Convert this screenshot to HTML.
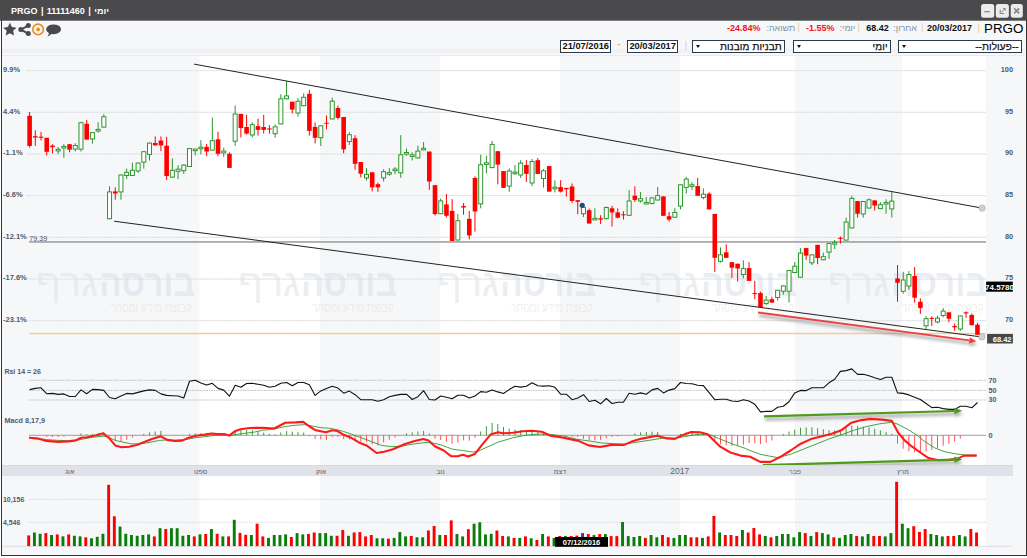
<!DOCTYPE html><html><head><meta charset="utf-8"><title>PRGO</title><style>*{margin:0;padding:0;box-sizing:border-box}
html,body{width:1027px;height:558px;overflow:hidden;background:#fff;font-family:"Liberation Sans",Arial,sans-serif}
#wrap{position:relative;width:1027px;height:558px;overflow:hidden}
svg{position:absolute;left:0;top:0}
.t{position:absolute;white-space:nowrap;line-height:1}
.sel{position:absolute;height:13.6px;border:1px solid #2b3a4a;background:#fff;font-size:10px;font-weight:normal;color:#111;direction:rtl;text-align:right;padding-right:2.5px;line-height:12px;letter-spacing:0.1px;-webkit-text-stroke:0.25px #111}
.sel svg{position:absolute;left:3px;top:4.5px}
.dt{position:absolute;height:13.2px;border:1px solid #2b3a4a;background:#fff;font-size:9.3px;font-weight:bold;color:#111;text-align:center;line-height:11px}
.wb{position:absolute;top:4px;width:13px;height:13.5px;background:#ececec;border-radius:2.5px}
</style></head><body><div id="wrap"><svg width="1027" height="558" viewBox="0 0 1027 558" font-family="Liberation Sans, Arial, sans-serif"><defs><filter id="sh" x="-5%" y="-200%" width="110%" height="500%"><feGaussianBlur stdDeviation="1.6"/></filter></defs><rect x="0" y="0" width="1027" height="558" fill="#fff"/><rect x="1" y="20" width="1025" height="535" fill="#f6f7f9"/><rect x="0" y="0" width="1027" height="20.7" fill="#4a4a4c"/><rect x="2" y="49" width="1023" height="3.6" fill="#f0f1f4"/><rect x="199.5" y="55.5" width="120.5" height="410" fill="#fff"/><rect x="199.5" y="476" width="120.5" height="70" fill="#fff"/><rect x="440" y="55.5" width="120" height="410" fill="#fff"/><rect x="440" y="476" width="120" height="70" fill="#fff"/><rect x="680" y="55.5" width="115" height="410" fill="#fff"/><rect x="680" y="476" width="115" height="70" fill="#fff"/><rect x="902" y="55.5" width="84" height="410" fill="#fff"/><rect x="902" y="476" width="84" height="70" fill="#fff"/><rect x="2" y="55" width="1023" height="0.8" fill="#e6e8ec"/><line x1="27" y1="70.6" x2="986" y2="70.6" stroke="#eceef1" stroke-width="1"/><line x1="27" y1="70.6" x2="986" y2="70.6" stroke="#d2d5da" stroke-width="0.8" stroke-dasharray="1.2,1.2"/><line x1="27" y1="112.3" x2="986" y2="112.3" stroke="#eceef1" stroke-width="1"/><line x1="27" y1="112.3" x2="986" y2="112.3" stroke="#d2d5da" stroke-width="0.8" stroke-dasharray="1.2,1.2"/><line x1="27" y1="154.0" x2="986" y2="154.0" stroke="#eceef1" stroke-width="1"/><line x1="27" y1="154.0" x2="986" y2="154.0" stroke="#d2d5da" stroke-width="0.8" stroke-dasharray="1.2,1.2"/><line x1="27" y1="195.6" x2="986" y2="195.6" stroke="#eceef1" stroke-width="1"/><line x1="27" y1="195.6" x2="986" y2="195.6" stroke="#d2d5da" stroke-width="0.8" stroke-dasharray="1.2,1.2"/><line x1="27" y1="237.3" x2="986" y2="237.3" stroke="#eceef1" stroke-width="1"/><line x1="27" y1="237.3" x2="986" y2="237.3" stroke="#d2d5da" stroke-width="0.8" stroke-dasharray="1.2,1.2"/><line x1="27" y1="279.0" x2="986" y2="279.0" stroke="#eceef1" stroke-width="1"/><line x1="27" y1="279.0" x2="986" y2="279.0" stroke="#d2d5da" stroke-width="0.8" stroke-dasharray="1.2,1.2"/><line x1="27" y1="320.7" x2="986" y2="320.7" stroke="#eceef1" stroke-width="1"/><line x1="27" y1="320.7" x2="986" y2="320.7" stroke="#d2d5da" stroke-width="0.8" stroke-dasharray="1.2,1.2"/><text x="195" y="295.8" font-size="38.5" font-weight="bold" fill="#d3dce6" fill-opacity="0.47" text-anchor="end" textLength="96" lengthAdjust="spacingAndGlyphs">בורסה</text><text x="98" y="295.8" font-size="38.5" fill="#dde2e8" fill-opacity="0.55" text-anchor="end" textLength="62" lengthAdjust="spacingAndGlyphs">גרף</text><text x="192" y="311.6" font-size="13" fill="#e2dcd2" fill-opacity="0.45" text-anchor="end" textLength="82" lengthAdjust="spacingAndGlyphs">קבוצת מידע ומסחר</text><text x="397" y="295.8" font-size="38.5" font-weight="bold" fill="#d3dce6" fill-opacity="0.47" text-anchor="end" textLength="96" lengthAdjust="spacingAndGlyphs">בורסה</text><text x="300" y="295.8" font-size="38.5" fill="#dde2e8" fill-opacity="0.55" text-anchor="end" textLength="62" lengthAdjust="spacingAndGlyphs">גרף</text><text x="394" y="311.6" font-size="13" fill="#e2dcd2" fill-opacity="0.45" text-anchor="end" textLength="82" lengthAdjust="spacingAndGlyphs">קבוצת מידע ומסחר</text><text x="596" y="295.8" font-size="38.5" font-weight="bold" fill="#d3dce6" fill-opacity="0.47" text-anchor="end" textLength="96" lengthAdjust="spacingAndGlyphs">בורסה</text><text x="499" y="295.8" font-size="38.5" fill="#dde2e8" fill-opacity="0.55" text-anchor="end" textLength="62" lengthAdjust="spacingAndGlyphs">גרף</text><text x="593" y="311.6" font-size="13" fill="#e2dcd2" fill-opacity="0.45" text-anchor="end" textLength="82" lengthAdjust="spacingAndGlyphs">קבוצת מידע ומסחר</text><text x="797" y="295.8" font-size="38.5" font-weight="bold" fill="#d3dce6" fill-opacity="0.47" text-anchor="end" textLength="96" lengthAdjust="spacingAndGlyphs">בורסה</text><text x="700" y="295.8" font-size="38.5" fill="#dde2e8" fill-opacity="0.55" text-anchor="end" textLength="62" lengthAdjust="spacingAndGlyphs">גרף</text><text x="794" y="311.6" font-size="13" fill="#e2dcd2" fill-opacity="0.45" text-anchor="end" textLength="82" lengthAdjust="spacingAndGlyphs">קבוצת מידע ומסחר</text><text x="987" y="295.8" font-size="38.5" font-weight="bold" fill="#d3dce6" fill-opacity="0.47" text-anchor="end" textLength="96" lengthAdjust="spacingAndGlyphs">בורסה</text><text x="890" y="295.8" font-size="38.5" fill="#dde2e8" fill-opacity="0.55" text-anchor="end" textLength="62" lengthAdjust="spacingAndGlyphs">גרף</text><text x="984" y="311.6" font-size="13" fill="#e2dcd2" fill-opacity="0.45" text-anchor="end" textLength="82" lengthAdjust="spacingAndGlyphs">קבוצת מידע ומסחר</text><text x="3" y="71.9" font-size="7.5" font-weight="bold" fill="#4f5a6b">9.9%</text><text x="1013" y="71.9" font-size="7.3" font-weight="bold" fill="#4f5a6b" text-anchor="end">100</text><text x="3" y="113.6" font-size="7.5" font-weight="bold" fill="#4f5a6b">4.4%</text><text x="1013" y="113.6" font-size="7.3" font-weight="bold" fill="#4f5a6b" text-anchor="end">95</text><text x="3" y="155.3" font-size="7.5" font-weight="bold" fill="#4f5a6b">-1.1%</text><text x="1013" y="155.3" font-size="7.3" font-weight="bold" fill="#4f5a6b" text-anchor="end">90</text><text x="3" y="196.9" font-size="7.5" font-weight="bold" fill="#4f5a6b">-6.6%</text><text x="1013" y="196.9" font-size="7.3" font-weight="bold" fill="#4f5a6b" text-anchor="end">85</text><text x="3" y="238.6" font-size="7.5" font-weight="bold" fill="#4f5a6b">-12.1%</text><text x="1013" y="238.6" font-size="7.3" font-weight="bold" fill="#4f5a6b" text-anchor="end">80</text><text x="3" y="280.3" font-size="7.5" font-weight="bold" fill="#4f5a6b">-17.6%</text><text x="1013" y="280.3" font-size="7.3" font-weight="bold" fill="#4f5a6b" text-anchor="end">75</text><text x="3" y="322.0" font-size="7.5" font-weight="bold" fill="#4f5a6b">-23.1%</text><text x="1013" y="322.0" font-size="7.3" font-weight="bold" fill="#4f5a6b" text-anchor="end">70</text><rect x="29" y="241.2" width="957" height="1.5" fill="#9a9a9a"/><text x="29.2" y="240.8" font-size="7.2" fill="#555">79.39</text><line x1="29.2" y1="333.5" x2="986" y2="333.5" stroke="#f2cba0" stroke-width="1.3"/><line x1="29.60" y1="112.0" x2="29.60" y2="147.5" stroke="#ff0000" stroke-width="1"/><rect x="27.30" y="115.8" width="4.6" height="30.1" fill="#ff0000"/><line x1="35.31" y1="130.3" x2="35.31" y2="145.9" stroke="#ff0000" stroke-width="1"/><rect x="33.01" y="136.2" width="4.6" height="1.3" fill="#ff0000"/><line x1="41.02" y1="131.9" x2="41.02" y2="140.5" stroke="#ff0000" stroke-width="1"/><rect x="38.72" y="136.7" width="4.6" height="1.1" fill="#ff0000"/><line x1="46.73" y1="137.8" x2="46.73" y2="155.5" stroke="#ff0000" stroke-width="1"/><rect x="44.43" y="137.8" width="4.6" height="14.0" fill="#ff0000"/><line x1="52.44" y1="144.2" x2="52.44" y2="153.4" stroke="#ff0000" stroke-width="1"/><rect x="50.14" y="145.6" width="4.6" height="1.6" fill="#ff0000"/><line x1="58.15" y1="147.0" x2="58.15" y2="154.0" stroke="#2c962c" stroke-width="1"/><rect x="56.15" y="149.3" width="4.0" height="1.6" fill="#fff" stroke="#2c962c" stroke-width="1"/><line x1="63.86" y1="144.2" x2="63.86" y2="157.7" stroke="#2c962c" stroke-width="1"/><rect x="61.86" y="146.4" width="4.0" height="1.6" fill="#fff" stroke="#2c962c" stroke-width="1"/><line x1="69.57" y1="144.2" x2="69.57" y2="152.3" stroke="#ff0000" stroke-width="1"/><rect x="67.27" y="144.2" width="4.6" height="5.4" fill="#ff0000"/><line x1="75.28" y1="143.2" x2="75.28" y2="151.5" stroke="#2c962c" stroke-width="1"/><rect x="73.28" y="145.5" width="4.0" height="3.6" fill="#fff" stroke="#2c962c" stroke-width="1"/><line x1="80.99" y1="121.7" x2="80.99" y2="151.5" stroke="#2c962c" stroke-width="1"/><rect x="78.99" y="122.7" width="4.0" height="26.4" fill="#fff" stroke="#2c962c" stroke-width="1"/><line x1="86.70" y1="120.0" x2="86.70" y2="139.6" stroke="#ff0000" stroke-width="1"/><rect x="84.40" y="123.8" width="4.6" height="15.8" fill="#ff0000"/><line x1="92.41" y1="132.1" x2="92.41" y2="143.7" stroke="#2c962c" stroke-width="1"/><rect x="90.41" y="132.6" width="4.0" height="6.3" fill="#fff" stroke="#2c962c" stroke-width="1"/><line x1="98.12" y1="122.2" x2="98.12" y2="132.7" stroke="#2c962c" stroke-width="1"/><rect x="96.12" y="129.4" width="4.0" height="1.6" fill="#fff" stroke="#2c962c" stroke-width="1"/><line x1="103.83" y1="114.1" x2="103.83" y2="127.6" stroke="#2c962c" stroke-width="1"/><rect x="101.83" y="116.8" width="4.0" height="10.3" fill="#fff" stroke="#2c962c" stroke-width="1"/><line x1="109.54" y1="186.3" x2="109.54" y2="219.2" stroke="#2c962c" stroke-width="1"/><rect x="107.54" y="191.9" width="4.0" height="26.8" fill="#fff" stroke="#2c962c" stroke-width="1"/><line x1="115.25" y1="187.3" x2="115.25" y2="199.7" stroke="#ff0000" stroke-width="1"/><rect x="112.95" y="191.4" width="4.6" height="2.1" fill="#ff0000"/><line x1="120.96" y1="174.5" x2="120.96" y2="199.7" stroke="#2c962c" stroke-width="1"/><rect x="118.96" y="175.0" width="4.0" height="16.9" fill="#fff" stroke="#2c962c" stroke-width="1"/><line x1="126.67" y1="168.7" x2="126.67" y2="179.0" stroke="#2c962c" stroke-width="1"/><rect x="124.67" y="172.3" width="4.0" height="3.2" fill="#fff" stroke="#2c962c" stroke-width="1"/><line x1="132.38" y1="162.6" x2="132.38" y2="176.0" stroke="#2c962c" stroke-width="1"/><rect x="130.38" y="170.3" width="4.0" height="5.2" fill="#fff" stroke="#2c962c" stroke-width="1"/><line x1="138.09" y1="162.6" x2="138.09" y2="172.9" stroke="#2c962c" stroke-width="1"/><rect x="136.09" y="163.1" width="4.0" height="7.8" fill="#fff" stroke="#2c962c" stroke-width="1"/><line x1="143.80" y1="151.2" x2="143.80" y2="168.7" stroke="#2c962c" stroke-width="1"/><rect x="141.80" y="151.7" width="4.0" height="10.4" fill="#fff" stroke="#2c962c" stroke-width="1"/><line x1="149.51" y1="142.6" x2="149.51" y2="160.5" stroke="#2c962c" stroke-width="1"/><rect x="147.51" y="143.1" width="4.0" height="11.3" fill="#fff" stroke="#2c962c" stroke-width="1"/><line x1="155.22" y1="136.4" x2="155.22" y2="145.4" stroke="#ff0000" stroke-width="1"/><rect x="152.92" y="143.0" width="4.6" height="2.4" fill="#ff0000"/><line x1="160.93" y1="136.4" x2="160.93" y2="151.2" stroke="#ff0000" stroke-width="1"/><rect x="158.63" y="140.5" width="4.6" height="4.9" fill="#ff0000"/><line x1="166.64" y1="136.8" x2="166.64" y2="180.0" stroke="#ff0000" stroke-width="1"/><rect x="164.34" y="145.7" width="4.6" height="30.3" fill="#ff0000"/><line x1="172.35" y1="158.4" x2="172.35" y2="177.6" stroke="#2c962c" stroke-width="1"/><rect x="170.35" y="170.3" width="4.0" height="6.8" fill="#fff" stroke="#2c962c" stroke-width="1"/><line x1="178.06" y1="165.2" x2="178.06" y2="179.0" stroke="#2c962c" stroke-width="1"/><rect x="176.06" y="169.2" width="4.0" height="2.1" fill="#fff" stroke="#2c962c" stroke-width="1"/><line x1="183.77" y1="164.6" x2="183.77" y2="173.9" stroke="#2c962c" stroke-width="1"/><rect x="181.77" y="165.1" width="4.0" height="5.6" fill="#fff" stroke="#2c962c" stroke-width="1"/><line x1="189.48" y1="148.1" x2="189.48" y2="167.0" stroke="#2c962c" stroke-width="1"/><rect x="187.48" y="148.6" width="4.0" height="17.9" fill="#fff" stroke="#2c962c" stroke-width="1"/><line x1="195.19" y1="148.7" x2="195.19" y2="155.3" stroke="#2c962c" stroke-width="1"/><rect x="193.19" y="149.1" width="4.0" height="1.6" fill="#fff" stroke="#2c962c" stroke-width="1"/><line x1="200.90" y1="140.2" x2="200.90" y2="154.3" stroke="#2c962c" stroke-width="1"/><rect x="198.90" y="147.2" width="4.0" height="1.6" fill="#fff" stroke="#2c962c" stroke-width="1"/><line x1="206.61" y1="144.0" x2="206.61" y2="156.2" stroke="#ff0000" stroke-width="1"/><rect x="204.31" y="146.8" width="4.6" height="4.7" fill="#ff0000"/><line x1="212.32" y1="117.6" x2="212.32" y2="150.6" stroke="#2c962c" stroke-width="1"/><rect x="210.32" y="140.7" width="4.0" height="9.4" fill="#fff" stroke="#2c962c" stroke-width="1"/><line x1="218.03" y1="131.7" x2="218.03" y2="156.2" stroke="#ff0000" stroke-width="1"/><rect x="215.73" y="139.3" width="4.6" height="14.5" fill="#ff0000"/><line x1="223.74" y1="147.7" x2="223.74" y2="157.2" stroke="#2c962c" stroke-width="1"/><rect x="221.74" y="151.1" width="4.0" height="1.8" fill="#fff" stroke="#2c962c" stroke-width="1"/><line x1="229.45" y1="152.4" x2="229.45" y2="167.9" stroke="#ff0000" stroke-width="1"/><rect x="227.15" y="153.8" width="4.6" height="14.1" fill="#ff0000"/><line x1="235.16" y1="105.4" x2="235.16" y2="145.9" stroke="#2c962c" stroke-width="1"/><rect x="233.16" y="114.0" width="4.0" height="27.2" fill="#fff" stroke="#2c962c" stroke-width="1"/><line x1="240.87" y1="113.9" x2="240.87" y2="137.4" stroke="#ff0000" stroke-width="1"/><rect x="238.57" y="113.9" width="4.6" height="14.1" fill="#ff0000"/><line x1="246.58" y1="114.8" x2="246.58" y2="134.6" stroke="#ff0000" stroke-width="1"/><rect x="244.28" y="127.0" width="4.6" height="6.6" fill="#ff0000"/><line x1="252.29" y1="122.3" x2="252.29" y2="137.4" stroke="#2c962c" stroke-width="1"/><rect x="250.29" y="124.7" width="4.0" height="10.3" fill="#fff" stroke="#2c962c" stroke-width="1"/><line x1="258.00" y1="118.6" x2="258.00" y2="135.5" stroke="#ff0000" stroke-width="1"/><rect x="255.70" y="126.1" width="4.6" height="3.8" fill="#ff0000"/><line x1="263.71" y1="114.8" x2="263.71" y2="133.6" stroke="#ff0000" stroke-width="1"/><rect x="261.41" y="127.0" width="4.6" height="2.9" fill="#ff0000"/><line x1="269.42" y1="125.2" x2="269.42" y2="133.6" stroke="#ff0000" stroke-width="1"/><rect x="267.12" y="128.4" width="4.6" height="1.1" fill="#ff0000"/><line x1="275.13" y1="124.4" x2="275.13" y2="137.6" stroke="#2c962c" stroke-width="1"/><rect x="273.13" y="126.8" width="4.0" height="6.9" fill="#fff" stroke="#2c962c" stroke-width="1"/><line x1="280.84" y1="94.2" x2="280.84" y2="124.4" stroke="#2c962c" stroke-width="1"/><rect x="278.84" y="98.8" width="4.0" height="25.1" fill="#fff" stroke="#2c962c" stroke-width="1"/><line x1="286.55" y1="81.0" x2="286.55" y2="99.3" stroke="#2c962c" stroke-width="1"/><rect x="284.55" y="95.9" width="4.0" height="2.9" fill="#fff" stroke="#2c962c" stroke-width="1"/><line x1="292.26" y1="101.7" x2="292.26" y2="113.5" stroke="#ff0000" stroke-width="1"/><rect x="289.96" y="101.7" width="4.6" height="7.9" fill="#ff0000"/><line x1="297.97" y1="98.1" x2="297.97" y2="116.5" stroke="#2c962c" stroke-width="1"/><rect x="295.97" y="101.2" width="4.0" height="11.8" fill="#fff" stroke="#2c962c" stroke-width="1"/><line x1="303.68" y1="93.4" x2="303.68" y2="106.2" stroke="#2c962c" stroke-width="1"/><rect x="301.68" y="97.3" width="4.0" height="8.4" fill="#fff" stroke="#2c962c" stroke-width="1"/><line x1="309.39" y1="89.9" x2="309.39" y2="135.6" stroke="#ff0000" stroke-width="1"/><rect x="307.09" y="93.8" width="4.6" height="37.1" fill="#ff0000"/><line x1="315.10" y1="122.4" x2="315.10" y2="143.5" stroke="#ff0000" stroke-width="1"/><rect x="312.80" y="126.9" width="4.6" height="10.9" fill="#ff0000"/><line x1="320.81" y1="125.3" x2="320.81" y2="146.0" stroke="#2c962c" stroke-width="1"/><rect x="318.81" y="125.8" width="4.0" height="11.9" fill="#fff" stroke="#2c962c" stroke-width="1"/><line x1="326.52" y1="115.5" x2="326.52" y2="129.3" stroke="#ff0000" stroke-width="1"/><rect x="324.22" y="122.8" width="4.6" height="1.0" fill="#ff0000"/><line x1="332.23" y1="97.7" x2="332.23" y2="119.4" stroke="#2c962c" stroke-width="1"/><rect x="330.23" y="101.2" width="4.0" height="17.7" fill="#fff" stroke="#2c962c" stroke-width="1"/><line x1="337.94" y1="105.6" x2="337.94" y2="119.4" stroke="#ff0000" stroke-width="1"/><rect x="335.64" y="108.0" width="4.6" height="9.8" fill="#ff0000"/><line x1="343.65" y1="117.0" x2="343.65" y2="153.3" stroke="#ff0000" stroke-width="1"/><rect x="341.35" y="117.0" width="4.6" height="32.4" fill="#ff0000"/><line x1="349.36" y1="132.2" x2="349.36" y2="145.0" stroke="#2c962c" stroke-width="1"/><rect x="347.36" y="134.7" width="4.0" height="6.9" fill="#fff" stroke="#2c962c" stroke-width="1"/><line x1="355.07" y1="135.2" x2="355.07" y2="169.7" stroke="#ff0000" stroke-width="1"/><rect x="352.77" y="138.2" width="4.6" height="25.6" fill="#ff0000"/><line x1="360.78" y1="162.0" x2="360.78" y2="177.4" stroke="#ff0000" stroke-width="1"/><rect x="358.48" y="162.0" width="4.6" height="11.7" fill="#ff0000"/><line x1="366.49" y1="168.1" x2="366.49" y2="180.5" stroke="#2c962c" stroke-width="1"/><rect x="364.49" y="174.4" width="4.0" height="3.5" fill="#fff" stroke="#2c962c" stroke-width="1"/><line x1="372.20" y1="172.3" x2="372.20" y2="191.4" stroke="#ff0000" stroke-width="1"/><rect x="369.90" y="172.3" width="4.6" height="15.0" fill="#ff0000"/><line x1="377.91" y1="182.6" x2="377.91" y2="191.8" stroke="#ff0000" stroke-width="1"/><rect x="375.61" y="184.2" width="4.6" height="3.1" fill="#ff0000"/><line x1="383.62" y1="169.2" x2="383.62" y2="181.5" stroke="#2c962c" stroke-width="1"/><rect x="381.62" y="171.7" width="4.0" height="6.2" fill="#fff" stroke="#2c962c" stroke-width="1"/><line x1="389.33" y1="168.1" x2="389.33" y2="175.8" stroke="#2c962c" stroke-width="1"/><rect x="387.33" y="172.6" width="4.0" height="1.6" fill="#fff" stroke="#2c962c" stroke-width="1"/><line x1="395.04" y1="167.1" x2="395.04" y2="174.3" stroke="#2c962c" stroke-width="1"/><rect x="393.04" y="169.1" width="4.0" height="1.6" fill="#fff" stroke="#2c962c" stroke-width="1"/><line x1="400.75" y1="135.2" x2="400.75" y2="177.8" stroke="#2c962c" stroke-width="1"/><rect x="398.75" y="154.8" width="4.0" height="18.0" fill="#fff" stroke="#2c962c" stroke-width="1"/><line x1="406.46" y1="148.5" x2="406.46" y2="155.8" stroke="#2c962c" stroke-width="1"/><rect x="404.46" y="152.5" width="4.0" height="1.6" fill="#fff" stroke="#2c962c" stroke-width="1"/><line x1="412.17" y1="152.3" x2="412.17" y2="160.5" stroke="#2c962c" stroke-width="1"/><rect x="410.17" y="154.8" width="4.0" height="1.6" fill="#fff" stroke="#2c962c" stroke-width="1"/><line x1="417.88" y1="145.5" x2="417.88" y2="158.4" stroke="#2c962c" stroke-width="1"/><rect x="415.88" y="151.1" width="4.0" height="6.8" fill="#fff" stroke="#2c962c" stroke-width="1"/><line x1="423.59" y1="142.0" x2="423.59" y2="150.2" stroke="#2c962c" stroke-width="1"/><rect x="421.59" y="148.3" width="4.0" height="1.6" fill="#fff" stroke="#2c962c" stroke-width="1"/><line x1="429.30" y1="151.6" x2="429.30" y2="189.8" stroke="#ff0000" stroke-width="1"/><rect x="427.00" y="151.6" width="4.6" height="29.9" fill="#ff0000"/><line x1="435.01" y1="185.2" x2="435.01" y2="215.5" stroke="#ff0000" stroke-width="1"/><rect x="432.71" y="185.2" width="4.6" height="28.9" fill="#ff0000"/><line x1="440.72" y1="198.5" x2="440.72" y2="214.2" stroke="#2c962c" stroke-width="1"/><rect x="438.72" y="200.9" width="4.0" height="12.8" fill="#fff" stroke="#2c962c" stroke-width="1"/><line x1="446.43" y1="194.1" x2="446.43" y2="217.4" stroke="#ff0000" stroke-width="1"/><rect x="444.13" y="204.4" width="4.6" height="11.4" fill="#ff0000"/><line x1="452.14" y1="199.1" x2="452.14" y2="241.0" stroke="#ff0000" stroke-width="1"/><rect x="449.84" y="210.9" width="4.6" height="30.1" fill="#ff0000"/><line x1="457.85" y1="213.9" x2="457.85" y2="240.5" stroke="#2c962c" stroke-width="1"/><rect x="455.85" y="220.7" width="4.0" height="19.3" fill="#fff" stroke="#2c962c" stroke-width="1"/><line x1="463.56" y1="203.0" x2="463.56" y2="214.8" stroke="#ff0000" stroke-width="1"/><rect x="461.26" y="206.0" width="4.6" height="1.5" fill="#ff0000"/><line x1="469.27" y1="210.9" x2="469.27" y2="239.5" stroke="#ff0000" stroke-width="1"/><rect x="466.97" y="218.8" width="4.6" height="16.7" fill="#ff0000"/><line x1="474.98" y1="176.4" x2="474.98" y2="231.6" stroke="#ff0000" stroke-width="1"/><rect x="472.68" y="178.0" width="4.6" height="33.5" fill="#ff0000"/><line x1="480.69" y1="154.7" x2="480.69" y2="208.3" stroke="#2c962c" stroke-width="1"/><rect x="478.69" y="164.7" width="4.0" height="39.2" fill="#fff" stroke="#2c962c" stroke-width="1"/><line x1="486.40" y1="155.7" x2="486.40" y2="173.4" stroke="#2c962c" stroke-width="1"/><rect x="484.40" y="162.8" width="4.0" height="1.6" fill="#fff" stroke="#2c962c" stroke-width="1"/><line x1="492.11" y1="140.9" x2="492.11" y2="168.1" stroke="#2c962c" stroke-width="1"/><rect x="490.11" y="144.4" width="4.0" height="23.2" fill="#fff" stroke="#2c962c" stroke-width="1"/><line x1="497.82" y1="151.2" x2="497.82" y2="184.3" stroke="#ff0000" stroke-width="1"/><rect x="495.52" y="151.2" width="4.6" height="13.4" fill="#ff0000"/><line x1="503.53" y1="171.1" x2="503.53" y2="187.8" stroke="#ff0000" stroke-width="1"/><rect x="501.23" y="171.1" width="4.6" height="16.7" fill="#ff0000"/><line x1="509.24" y1="168.5" x2="509.24" y2="191.8" stroke="#2c962c" stroke-width="1"/><rect x="507.24" y="171.0" width="4.0" height="15.1" fill="#fff" stroke="#2c962c" stroke-width="1"/><line x1="514.95" y1="165.0" x2="514.95" y2="174.7" stroke="#2c962c" stroke-width="1"/><rect x="512.95" y="172.1" width="4.0" height="1.6" fill="#fff" stroke="#2c962c" stroke-width="1"/><line x1="520.66" y1="160.2" x2="520.66" y2="177.9" stroke="#2c962c" stroke-width="1"/><rect x="518.66" y="163.1" width="4.0" height="11.9" fill="#fff" stroke="#2c962c" stroke-width="1"/><line x1="526.37" y1="160.2" x2="526.37" y2="181.9" stroke="#ff0000" stroke-width="1"/><rect x="524.07" y="165.0" width="4.6" height="8.9" fill="#ff0000"/><line x1="532.08" y1="159.0" x2="532.08" y2="186.0" stroke="#2c962c" stroke-width="1"/><rect x="530.08" y="161.5" width="4.0" height="21.5" fill="#fff" stroke="#2c962c" stroke-width="1"/><line x1="537.79" y1="158.0" x2="537.79" y2="173.9" stroke="#ff0000" stroke-width="1"/><rect x="535.49" y="160.2" width="4.6" height="13.7" fill="#ff0000"/><line x1="543.50" y1="169.0" x2="543.50" y2="187.6" stroke="#2c962c" stroke-width="1"/><rect x="541.50" y="170.8" width="4.0" height="7.7" fill="#fff" stroke="#2c962c" stroke-width="1"/><line x1="549.21" y1="166.1" x2="549.21" y2="191.6" stroke="#ff0000" stroke-width="1"/><rect x="546.91" y="166.1" width="4.6" height="25.5" fill="#ff0000"/><line x1="554.92" y1="180.3" x2="554.92" y2="192.4" stroke="#2c962c" stroke-width="1"/><rect x="552.92" y="187.2" width="4.0" height="1.6" fill="#fff" stroke="#2c962c" stroke-width="1"/><line x1="560.63" y1="180.3" x2="560.63" y2="192.4" stroke="#ff0000" stroke-width="1"/><rect x="558.33" y="187.1" width="4.6" height="4.5" fill="#ff0000"/><line x1="566.34" y1="187.9" x2="566.34" y2="196.5" stroke="#ff0000" stroke-width="1"/><rect x="564.04" y="187.9" width="4.6" height="1.3" fill="#ff0000"/><line x1="572.05" y1="183.5" x2="572.05" y2="202.9" stroke="#ff0000" stroke-width="1"/><rect x="569.75" y="186.5" width="4.6" height="14.5" fill="#ff0000"/><line x1="577.76" y1="200.2" x2="577.76" y2="214.2" stroke="#ff0000" stroke-width="1"/><rect x="575.46" y="200.2" width="4.6" height="1.6" fill="#ff0000"/><line x1="583.47" y1="206.9" x2="583.47" y2="217.1" stroke="#2c962c" stroke-width="1"/><rect x="581.47" y="207.4" width="4.0" height="6.3" fill="#fff" stroke="#2c962c" stroke-width="1"/><line x1="589.18" y1="208.5" x2="589.18" y2="223.5" stroke="#ff0000" stroke-width="1"/><rect x="586.88" y="210.2" width="4.6" height="13.3" fill="#ff0000"/><line x1="594.89" y1="208.3" x2="594.89" y2="220.2" stroke="#2c962c" stroke-width="1"/><rect x="592.89" y="218.3" width="4.0" height="1.6" fill="#fff" stroke="#2c962c" stroke-width="1"/><line x1="600.60" y1="215.2" x2="600.60" y2="224.0" stroke="#ff0000" stroke-width="1"/><rect x="598.30" y="218.3" width="4.6" height="1.3" fill="#ff0000"/><line x1="606.31" y1="206.4" x2="606.31" y2="219.2" stroke="#2c962c" stroke-width="1"/><rect x="604.31" y="207.5" width="4.0" height="11.2" fill="#fff" stroke="#2c962c" stroke-width="1"/><line x1="612.02" y1="205.8" x2="612.02" y2="226.5" stroke="#ff0000" stroke-width="1"/><rect x="609.72" y="208.3" width="4.6" height="4.1" fill="#ff0000"/><line x1="617.73" y1="208.3" x2="617.73" y2="218.3" stroke="#ff0000" stroke-width="1"/><rect x="615.43" y="212.4" width="4.6" height="5.3" fill="#ff0000"/><line x1="623.44" y1="211.2" x2="623.44" y2="219.6" stroke="#ff0000" stroke-width="1"/><rect x="621.14" y="214.3" width="4.6" height="1.0" fill="#ff0000"/><line x1="629.15" y1="190.1" x2="629.15" y2="215.8" stroke="#2c962c" stroke-width="1"/><rect x="627.15" y="201.0" width="4.0" height="14.3" fill="#fff" stroke="#2c962c" stroke-width="1"/><line x1="634.86" y1="186.3" x2="634.86" y2="202.0" stroke="#ff0000" stroke-width="1"/><rect x="632.56" y="195.7" width="4.6" height="4.2" fill="#ff0000"/><line x1="640.57" y1="192.0" x2="640.57" y2="202.6" stroke="#2c962c" stroke-width="1"/><rect x="638.57" y="198.7" width="4.0" height="2.2" fill="#fff" stroke="#2c962c" stroke-width="1"/><line x1="646.28" y1="197.0" x2="646.28" y2="204.1" stroke="#2c962c" stroke-width="1"/><rect x="644.28" y="202.4" width="4.0" height="1.6" fill="#fff" stroke="#2c962c" stroke-width="1"/><line x1="651.99" y1="197.4" x2="651.99" y2="204.5" stroke="#2c962c" stroke-width="1"/><rect x="649.99" y="197.9" width="4.0" height="5.5" fill="#fff" stroke="#2c962c" stroke-width="1"/><line x1="657.70" y1="187.0" x2="657.70" y2="200.5" stroke="#2c962c" stroke-width="1"/><rect x="655.70" y="195.6" width="4.0" height="4.4" fill="#fff" stroke="#2c962c" stroke-width="1"/><line x1="663.41" y1="196.4" x2="663.41" y2="215.8" stroke="#ff0000" stroke-width="1"/><rect x="661.11" y="196.4" width="4.6" height="19.4" fill="#ff0000"/><line x1="669.12" y1="212.0" x2="669.12" y2="221.5" stroke="#ff0000" stroke-width="1"/><rect x="666.82" y="216.2" width="4.6" height="3.4" fill="#ff0000"/><line x1="674.83" y1="208.3" x2="674.83" y2="217.7" stroke="#2c962c" stroke-width="1"/><rect x="672.83" y="212.5" width="4.0" height="4.7" fill="#fff" stroke="#2c962c" stroke-width="1"/><line x1="680.54" y1="184.3" x2="680.54" y2="209.4" stroke="#2c962c" stroke-width="1"/><rect x="678.54" y="184.8" width="4.0" height="21.3" fill="#fff" stroke="#2c962c" stroke-width="1"/><line x1="686.25" y1="176.9" x2="686.25" y2="193.7" stroke="#2c962c" stroke-width="1"/><rect x="684.25" y="179.1" width="4.0" height="8.3" fill="#fff" stroke="#2c962c" stroke-width="1"/><line x1="691.96" y1="182.2" x2="691.96" y2="190.1" stroke="#2c962c" stroke-width="1"/><rect x="689.96" y="184.8" width="4.0" height="1.6" fill="#fff" stroke="#2c962c" stroke-width="1"/><line x1="697.67" y1="177.9" x2="697.67" y2="195.8" stroke="#ff0000" stroke-width="1"/><rect x="695.37" y="186.1" width="4.6" height="9.7" fill="#ff0000"/><line x1="703.38" y1="188.4" x2="703.38" y2="199.4" stroke="#2c962c" stroke-width="1"/><rect x="701.38" y="194.2" width="4.0" height="3.3" fill="#fff" stroke="#2c962c" stroke-width="1"/><line x1="709.09" y1="192.2" x2="709.09" y2="209.4" stroke="#ff0000" stroke-width="1"/><rect x="706.79" y="193.7" width="4.6" height="15.7" fill="#ff0000"/><line x1="714.80" y1="213.9" x2="714.80" y2="272.0" stroke="#ff0000" stroke-width="1"/><rect x="712.50" y="213.9" width="4.6" height="43.9" fill="#ff0000"/><line x1="720.51" y1="247.4" x2="720.51" y2="262.6" stroke="#2c962c" stroke-width="1"/><rect x="718.51" y="254.8" width="4.0" height="6.5" fill="#fff" stroke="#2c962c" stroke-width="1"/><line x1="726.22" y1="244.4" x2="726.22" y2="257.8" stroke="#ff0000" stroke-width="1"/><rect x="723.92" y="252.3" width="4.6" height="5.5" fill="#ff0000"/><line x1="731.93" y1="262.2" x2="731.93" y2="277.9" stroke="#ff0000" stroke-width="1"/><rect x="729.63" y="262.2" width="4.6" height="5.5" fill="#ff0000"/><line x1="737.64" y1="263.7" x2="737.64" y2="281.5" stroke="#ff0000" stroke-width="1"/><rect x="735.34" y="263.7" width="4.6" height="4.8" fill="#ff0000"/><line x1="743.35" y1="260.2" x2="743.35" y2="278.3" stroke="#2c962c" stroke-width="1"/><rect x="741.35" y="268.6" width="4.0" height="5.9" fill="#fff" stroke="#2c962c" stroke-width="1"/><line x1="749.06" y1="262.2" x2="749.06" y2="280.9" stroke="#ff0000" stroke-width="1"/><rect x="746.76" y="268.1" width="4.6" height="12.8" fill="#ff0000"/><line x1="754.77" y1="280.9" x2="754.77" y2="299.2" stroke="#ff0000" stroke-width="1"/><rect x="752.47" y="293.1" width="4.6" height="1.0" fill="#ff0000"/><line x1="760.48" y1="291.7" x2="760.48" y2="307.1" stroke="#ff0000" stroke-width="1"/><rect x="758.18" y="293.1" width="4.6" height="14.0" fill="#ff0000"/><line x1="766.19" y1="296.0" x2="766.19" y2="305.1" stroke="#2c962c" stroke-width="1"/><rect x="764.19" y="300.1" width="4.0" height="3.4" fill="#fff" stroke="#2c962c" stroke-width="1"/><line x1="771.90" y1="296.7" x2="771.90" y2="302.6" stroke="#ff0000" stroke-width="1"/><rect x="769.60" y="299.2" width="4.6" height="3.4" fill="#ff0000"/><line x1="777.61" y1="289.8" x2="777.61" y2="300.6" stroke="#2c962c" stroke-width="1"/><rect x="775.61" y="290.3" width="4.0" height="7.2" fill="#fff" stroke="#2c962c" stroke-width="1"/><line x1="783.32" y1="285.4" x2="783.32" y2="294.7" stroke="#2c962c" stroke-width="1"/><rect x="781.32" y="285.9" width="4.0" height="5.3" fill="#fff" stroke="#2c962c" stroke-width="1"/><line x1="789.03" y1="270.0" x2="789.03" y2="302.6" stroke="#2c962c" stroke-width="1"/><rect x="787.03" y="270.5" width="4.0" height="20.7" fill="#fff" stroke="#2c962c" stroke-width="1"/><line x1="794.74" y1="262.0" x2="794.74" y2="273.2" stroke="#2c962c" stroke-width="1"/><rect x="792.74" y="266.2" width="4.0" height="6.3" fill="#fff" stroke="#2c962c" stroke-width="1"/><line x1="800.45" y1="248.1" x2="800.45" y2="277.7" stroke="#2c962c" stroke-width="1"/><rect x="798.45" y="253.1" width="4.0" height="24.1" fill="#fff" stroke="#2c962c" stroke-width="1"/><line x1="806.16" y1="248.1" x2="806.16" y2="259.7" stroke="#ff0000" stroke-width="1"/><rect x="803.86" y="248.1" width="4.6" height="7.5" fill="#ff0000"/><line x1="811.87" y1="254.4" x2="811.87" y2="265.1" stroke="#2c962c" stroke-width="1"/><rect x="809.87" y="254.9" width="4.0" height="7.9" fill="#fff" stroke="#2c962c" stroke-width="1"/><line x1="817.58" y1="244.9" x2="817.58" y2="264.2" stroke="#ff0000" stroke-width="1"/><rect x="815.28" y="244.9" width="4.6" height="13.1" fill="#ff0000"/><line x1="823.29" y1="252.6" x2="823.29" y2="260.3" stroke="#2c962c" stroke-width="1"/><rect x="821.29" y="256.7" width="4.0" height="3.1" fill="#fff" stroke="#2c962c" stroke-width="1"/><line x1="829.00" y1="243.1" x2="829.00" y2="258.9" stroke="#2c962c" stroke-width="1"/><rect x="827.00" y="243.6" width="4.0" height="8.5" fill="#fff" stroke="#2c962c" stroke-width="1"/><line x1="834.71" y1="240.0" x2="834.71" y2="249.0" stroke="#2c962c" stroke-width="1"/><rect x="832.71" y="242.6" width="4.0" height="1.6" fill="#fff" stroke="#2c962c" stroke-width="1"/><line x1="840.42" y1="236.5" x2="840.42" y2="243.6" stroke="#ff0000" stroke-width="1"/><rect x="838.12" y="237.7" width="4.6" height="1.1" fill="#ff0000"/><line x1="846.13" y1="217.6" x2="846.13" y2="240.6" stroke="#2c962c" stroke-width="1"/><rect x="844.13" y="222.1" width="4.0" height="18.0" fill="#fff" stroke="#2c962c" stroke-width="1"/><line x1="851.84" y1="195.8" x2="851.84" y2="228.4" stroke="#2c962c" stroke-width="1"/><rect x="849.84" y="198.4" width="4.0" height="29.5" fill="#fff" stroke="#2c962c" stroke-width="1"/><line x1="857.55" y1="201.1" x2="857.55" y2="217.6" stroke="#ff0000" stroke-width="1"/><rect x="855.25" y="201.1" width="4.6" height="12.6" fill="#ff0000"/><line x1="863.26" y1="201.0" x2="863.26" y2="217.6" stroke="#2c962c" stroke-width="1"/><rect x="861.26" y="201.5" width="4.0" height="12.5" fill="#fff" stroke="#2c962c" stroke-width="1"/><line x1="868.97" y1="198.4" x2="868.97" y2="208.5" stroke="#2c962c" stroke-width="1"/><rect x="866.97" y="199.8" width="4.0" height="8.2" fill="#fff" stroke="#2c962c" stroke-width="1"/><line x1="874.68" y1="200.4" x2="874.68" y2="210.5" stroke="#ff0000" stroke-width="1"/><rect x="872.38" y="200.4" width="4.6" height="5.1" fill="#ff0000"/><line x1="880.39" y1="202.2" x2="880.39" y2="209.1" stroke="#2c962c" stroke-width="1"/><rect x="878.39" y="204.7" width="4.0" height="3.9" fill="#fff" stroke="#2c962c" stroke-width="1"/><line x1="886.10" y1="199.3" x2="886.10" y2="213.6" stroke="#2c962c" stroke-width="1"/><rect x="884.10" y="202.4" width="4.0" height="1.6" fill="#fff" stroke="#2c962c" stroke-width="1"/><line x1="891.81" y1="192.1" x2="891.81" y2="217.6" stroke="#2c962c" stroke-width="1"/><rect x="889.81" y="201.1" width="4.0" height="7.8" fill="#fff" stroke="#2c962c" stroke-width="1"/><line x1="897.52" y1="265.0" x2="897.52" y2="301.8" stroke="#ff0000" stroke-width="1"/><rect x="895.22" y="278.4" width="4.6" height="4.3" fill="#ff0000"/><line x1="903.23" y1="271.9" x2="903.23" y2="293.7" stroke="#2c962c" stroke-width="1"/><rect x="901.23" y="280.0" width="4.0" height="11.3" fill="#fff" stroke="#2c962c" stroke-width="1"/><line x1="908.94" y1="271.1" x2="908.94" y2="289.7" stroke="#2c962c" stroke-width="1"/><rect x="906.94" y="274.5" width="4.0" height="11.5" fill="#fff" stroke="#2c962c" stroke-width="1"/><line x1="914.65" y1="267.1" x2="914.65" y2="302.6" stroke="#ff0000" stroke-width="1"/><rect x="912.35" y="276.0" width="4.6" height="21.7" fill="#ff0000"/><line x1="920.36" y1="298.5" x2="920.36" y2="313.9" stroke="#ff0000" stroke-width="1"/><rect x="918.06" y="301.8" width="4.6" height="6.1" fill="#ff0000"/><line x1="926.07" y1="316.0" x2="926.07" y2="329.2" stroke="#2c962c" stroke-width="1"/><rect x="924.07" y="318.7" width="4.0" height="7.1" fill="#fff" stroke="#2c962c" stroke-width="1"/><line x1="931.78" y1="316.3" x2="931.78" y2="326.0" stroke="#ff0000" stroke-width="1"/><rect x="929.48" y="317.9" width="4.6" height="1.0" fill="#ff0000"/><line x1="937.49" y1="315.5" x2="937.49" y2="323.5" stroke="#2c962c" stroke-width="1"/><rect x="935.49" y="318.1" width="4.0" height="3.8" fill="#fff" stroke="#2c962c" stroke-width="1"/><line x1="943.20" y1="308.2" x2="943.20" y2="317.1" stroke="#2c962c" stroke-width="1"/><rect x="941.20" y="311.1" width="4.0" height="4.4" fill="#fff" stroke="#2c962c" stroke-width="1"/><line x1="948.91" y1="312.3" x2="948.91" y2="322.4" stroke="#ff0000" stroke-width="1"/><rect x="946.61" y="312.3" width="4.6" height="6.4" fill="#ff0000"/><line x1="954.62" y1="323.5" x2="954.62" y2="330.8" stroke="#ff0000" stroke-width="1"/><rect x="952.32" y="326.0" width="4.6" height="1.3" fill="#ff0000"/><line x1="960.33" y1="315.5" x2="960.33" y2="331.0" stroke="#2c962c" stroke-width="1"/><rect x="958.33" y="316.0" width="4.0" height="13.0" fill="#fff" stroke="#2c962c" stroke-width="1"/><line x1="966.04" y1="311.5" x2="966.04" y2="317.9" stroke="#ff0000" stroke-width="1"/><rect x="963.74" y="312.3" width="4.6" height="1.1" fill="#ff0000"/><line x1="971.75" y1="313.4" x2="971.75" y2="325.2" stroke="#ff0000" stroke-width="1"/><rect x="969.45" y="315.0" width="4.6" height="10.2" fill="#ff0000"/><line x1="977.46" y1="322.7" x2="977.46" y2="334.8" stroke="#ff0000" stroke-width="1"/><rect x="975.16" y="324.7" width="4.6" height="10.1" fill="#ff0000"/><circle cx="582.2" cy="205.3" r="2.6" fill="#1d4f7e"/><line x1="194" y1="64.1" x2="982.1" y2="208.1" stroke="#222" stroke-width="1"/><line x1="114.1" y1="221.2" x2="982" y2="337" stroke="#222" stroke-width="1"/><circle cx="982.1" cy="208.1" r="3.2" fill="#d0d0d0" stroke="#aaa" stroke-width="0.6"/><circle cx="981.9" cy="336.9" r="3.2" fill="#d0d0d0" stroke="#aaa" stroke-width="0.6"/><g filter="url(#sh)" opacity="0.55" transform="translate(1,3)"><line x1="758" y1="312.5" x2="969.4" y2="340.4" stroke="#777" stroke-width="2.8"/><polygon points="976.3,341.3 968.9,343.6 969.8,337.2" fill="#777"/></g><line x1="758" y1="312.5" x2="969.4" y2="340.4" stroke="#e8433f" stroke-width="1.8"/><polygon points="976.3,341.3 968.9,343.6 969.8,337.2" fill="#e8433f"/><rect x="986.1" y="281.6" width="26.7" height="10.1" fill="#000"/><text x="999.5" y="289.6" font-size="8" font-weight="bold" fill="#fff" text-anchor="middle">74.5780</text><rect x="987.1" y="333.9" width="25.8" height="9.6" fill="#474747"/><text x="1011.5" y="341.6" font-size="7.5" font-weight="bold" fill="#fff" text-anchor="end">68.42</text><text x="4.4" y="373.7" font-size="7.8" font-weight="bold" fill="#4f5a6b" textLength="36.5" lengthAdjust="spacingAndGlyphs">Rsi 14 = 26</text><line x1="29" y1="380.3" x2="986" y2="380.3" stroke="#a9aeb5" stroke-width="0.8" stroke-dasharray="1.5,0.9"/><line x1="29" y1="390.4" x2="986" y2="390.4" stroke="#a9aeb5" stroke-width="0.8" stroke-dasharray="1.5,0.9"/><line x1="29" y1="400" x2="986" y2="400" stroke="#a9aeb5" stroke-width="0.8" stroke-dasharray="1.5,0.9"/><text x="988.6" y="382.5" font-size="7.2" font-weight="bold" fill="#4f5a6b">70</text><text x="988.6" y="392.59999999999997" font-size="7.2" font-weight="bold" fill="#4f5a6b">50</text><text x="988.6" y="402.2" font-size="7.2" font-weight="bold" fill="#4f5a6b">30</text><polyline points="29.6,389.6 35.3,388.4 41.0,387.8 46.7,393.7 52.4,393.4 58.2,394.4 63.9,393.9 69.6,396.5 75.3,396.5 81.0,389.9 86.7,393.7 92.4,389.4 98.1,389.6 103.8,390.4 109.5,397.5 115.2,398.7 121.0,396.0 126.7,393.4 132.4,393.9 138.1,392.4 143.8,390.9 149.5,389.9 155.2,390.4 160.9,393.9 166.6,395.4 172.3,395.7 178.1,396.0 183.8,398.0 189.5,381.3 195.2,380.3 200.9,383.0 206.6,385.1 212.3,383.3 218.0,388.4 223.7,390.1 229.4,396.2 235.2,385.3 240.9,387.3 246.6,383.5 252.3,383.3 258.0,384.3 263.7,385.3 269.4,387.3 275.1,386.3 280.8,383.3 286.6,382.5 292.3,385.8 298.0,382.5 303.7,382.5 309.4,384.8 315.1,395.4 320.8,390.9 326.5,388.4 332.2,386.3 337.9,388.1 343.7,393.2 349.4,391.1 355.1,394.7 360.8,399.7 366.5,399.7 372.2,399.7 377.9,401.3 383.6,399.7 389.3,396.7 395.0,395.4 400.8,394.4 406.5,394.2 412.2,399.5 417.9,396.7 423.6,390.6 429.3,399.5 435.0,400.0 440.7,396.0 446.4,397.2 452.1,398.7 457.9,395.2 463.6,395.2 469.3,398.0 475.0,396.0 480.7,391.6 486.4,392.2 492.1,389.9 497.8,391.9 503.5,393.5 509.2,389.6 515.0,386.3 520.7,387.1 526.4,386.3 532.1,382.8 537.8,385.8 543.5,386.1 549.2,385.8 554.9,387.3 560.6,394.2 566.3,394.2 572.1,399.7 577.8,398.0 583.5,394.7 589.2,401.5 594.9,400.3 600.6,403.8 606.3,398.5 612.0,403.5 617.7,402.3 623.4,402.3 629.1,393.2 634.9,394.2 640.6,392.9 646.3,394.2 652.0,389.9 657.7,388.4 663.4,392.9 669.1,390.1 674.8,388.6 680.5,382.5 686.2,383.5 692.0,383.8 697.7,385.3 703.4,385.6 709.1,392.7 714.8,399.7 720.5,399.2 726.2,399.2 731.9,401.0 737.6,401.5 743.4,399.8 749.1,401.0 754.8,404.3 760.5,411.9 766.2,411.4 771.9,411.4 777.6,407.3 783.3,406.3 789.0,401.8 794.7,392.9 800.5,390.4 806.2,390.6 811.9,387.8 817.6,387.8 823.3,387.8 829.0,382.8 834.7,379.2 840.4,371.4 846.1,370.6 851.8,368.9 857.6,374.4 863.3,374.2 869.0,375.7 874.7,377.7 880.4,379.5 886.1,377.2 891.8,377.2 897.5,392.9 903.2,393.4 908.9,394.9 914.6,397.2 920.4,399.5 926.1,403.5 931.8,407.6 937.5,407.3 943.2,408.6 948.9,409.4 954.6,409.4 960.3,406.3 966.0,406.3 971.8,407.8 977.5,402.5" fill="none" stroke="#111" stroke-width="1.1" stroke-linejoin="round"/><g filter="url(#sh)" opacity="0.55" transform="translate(1,3)"><line x1="764" y1="416.3" x2="954.3" y2="411.0" stroke="#777" stroke-width="3.2"/><polygon points="962.3,410.8 954.4,414.2 954.2,407.8" fill="#777"/></g><line x1="764" y1="416.3" x2="954.3" y2="411.0" stroke="#4f9a1c" stroke-width="2.2"/><polygon points="962.3,410.8 954.4,414.2 954.2,407.8" fill="#4f9a1c"/><text x="4.5" y="422.8" font-size="7.8" font-weight="bold" fill="#4f5a6b" textLength="40.4" lengthAdjust="spacingAndGlyphs">Macd 8,17,9</text><line x1="29" y1="435.3" x2="986" y2="435.3" stroke="#888" stroke-width="0.8"/><text x="988.6" y="437.6" font-size="7.4" font-weight="bold" fill="#4f5a6b">0</text><line x1="46.7" y1="435.3" x2="46.7" y2="436.8" stroke="#ff4040" stroke-width="0.9"/><line x1="52.4" y1="435.3" x2="52.4" y2="436.9" stroke="#ff4040" stroke-width="0.9"/><line x1="58.2" y1="435.3" x2="58.2" y2="437.0" stroke="#ff4040" stroke-width="0.9"/><line x1="63.9" y1="435.3" x2="63.9" y2="436.6" stroke="#ff4040" stroke-width="0.9"/><line x1="81.0" y1="435.3" x2="81.0" y2="433.5" stroke="#2e8b2e" stroke-width="0.9"/><line x1="86.7" y1="435.3" x2="86.7" y2="434.2" stroke="#2e8b2e" stroke-width="0.9"/><line x1="92.4" y1="435.3" x2="92.4" y2="434.0" stroke="#2e8b2e" stroke-width="0.9"/><line x1="98.1" y1="435.3" x2="98.1" y2="433.1" stroke="#2e8b2e" stroke-width="0.9"/><line x1="103.8" y1="435.3" x2="103.8" y2="432.5" stroke="#2e8b2e" stroke-width="0.9"/><line x1="109.5" y1="435.3" x2="109.5" y2="436.4" stroke="#ff4040" stroke-width="0.9"/><line x1="115.2" y1="435.3" x2="115.2" y2="441.1" stroke="#ff4040" stroke-width="0.9"/><line x1="121.0" y1="435.3" x2="121.0" y2="441.5" stroke="#ff4040" stroke-width="0.9"/><line x1="126.7" y1="435.3" x2="126.7" y2="439.8" stroke="#ff4040" stroke-width="0.9"/><line x1="132.4" y1="435.3" x2="132.4" y2="437.6" stroke="#ff4040" stroke-width="0.9"/><line x1="143.8" y1="435.3" x2="143.8" y2="433.9" stroke="#2e8b2e" stroke-width="0.9"/><line x1="149.5" y1="435.3" x2="149.5" y2="432.4" stroke="#2e8b2e" stroke-width="0.9"/><line x1="155.2" y1="435.3" x2="155.2" y2="431.5" stroke="#2e8b2e" stroke-width="0.9"/><line x1="160.9" y1="435.3" x2="160.9" y2="430.9" stroke="#2e8b2e" stroke-width="0.9"/><line x1="189.5" y1="435.3" x2="189.5" y2="433.9" stroke="#2e8b2e" stroke-width="0.9"/><line x1="195.2" y1="435.3" x2="195.2" y2="433.3" stroke="#2e8b2e" stroke-width="0.9"/><line x1="200.9" y1="435.3" x2="200.9" y2="433.1" stroke="#2e8b2e" stroke-width="0.9"/><line x1="206.6" y1="435.3" x2="206.6" y2="432.9" stroke="#2e8b2e" stroke-width="0.9"/><line x1="212.3" y1="435.3" x2="212.3" y2="432.9" stroke="#2e8b2e" stroke-width="0.9"/><line x1="218.0" y1="435.3" x2="218.0" y2="433.9" stroke="#2e8b2e" stroke-width="0.9"/><line x1="223.7" y1="435.3" x2="223.7" y2="434.1" stroke="#2e8b2e" stroke-width="0.9"/><line x1="235.2" y1="435.3" x2="235.2" y2="431.4" stroke="#2e8b2e" stroke-width="0.9"/><line x1="240.9" y1="435.3" x2="240.9" y2="430.0" stroke="#2e8b2e" stroke-width="0.9"/><line x1="246.6" y1="435.3" x2="246.6" y2="429.9" stroke="#2e8b2e" stroke-width="0.9"/><line x1="252.3" y1="435.3" x2="252.3" y2="430.2" stroke="#2e8b2e" stroke-width="0.9"/><line x1="258.0" y1="435.3" x2="258.0" y2="431.3" stroke="#2e8b2e" stroke-width="0.9"/><line x1="263.7" y1="435.3" x2="263.7" y2="432.6" stroke="#2e8b2e" stroke-width="0.9"/><line x1="269.4" y1="435.3" x2="269.4" y2="433.8" stroke="#2e8b2e" stroke-width="0.9"/><line x1="275.1" y1="435.3" x2="275.1" y2="434.4" stroke="#2e8b2e" stroke-width="0.9"/><line x1="280.8" y1="435.3" x2="280.8" y2="432.5" stroke="#2e8b2e" stroke-width="0.9"/><line x1="286.6" y1="435.3" x2="286.6" y2="431.1" stroke="#2e8b2e" stroke-width="0.9"/><line x1="292.3" y1="435.3" x2="292.3" y2="431.7" stroke="#2e8b2e" stroke-width="0.9"/><line x1="298.0" y1="435.3" x2="298.0" y2="432.1" stroke="#2e8b2e" stroke-width="0.9"/><line x1="303.7" y1="435.3" x2="303.7" y2="432.5" stroke="#2e8b2e" stroke-width="0.9"/><line x1="309.4" y1="435.3" x2="309.4" y2="436.3" stroke="#ff4040" stroke-width="0.9"/><line x1="315.1" y1="435.3" x2="315.1" y2="439.0" stroke="#ff4040" stroke-width="0.9"/><line x1="320.8" y1="435.3" x2="320.8" y2="439.4" stroke="#ff4040" stroke-width="0.9"/><line x1="326.5" y1="435.3" x2="326.5" y2="439.9" stroke="#ff4040" stroke-width="0.9"/><line x1="332.2" y1="435.3" x2="332.2" y2="436.9" stroke="#ff4040" stroke-width="0.9"/><line x1="337.9" y1="435.3" x2="337.9" y2="436.9" stroke="#ff4040" stroke-width="0.9"/><line x1="343.7" y1="435.3" x2="343.7" y2="439.1" stroke="#ff4040" stroke-width="0.9"/><line x1="349.4" y1="435.3" x2="349.4" y2="439.5" stroke="#ff4040" stroke-width="0.9"/><line x1="355.1" y1="435.3" x2="355.1" y2="440.7" stroke="#ff4040" stroke-width="0.9"/><line x1="360.8" y1="435.3" x2="360.8" y2="441.7" stroke="#ff4040" stroke-width="0.9"/><line x1="366.5" y1="435.3" x2="366.5" y2="441.9" stroke="#ff4040" stroke-width="0.9"/><line x1="372.2" y1="435.3" x2="372.2" y2="444.3" stroke="#ff4040" stroke-width="0.9"/><line x1="377.9" y1="435.3" x2="377.9" y2="445.4" stroke="#ff4040" stroke-width="0.9"/><line x1="383.6" y1="435.3" x2="383.6" y2="442.4" stroke="#ff4040" stroke-width="0.9"/><line x1="389.3" y1="435.3" x2="389.3" y2="439.8" stroke="#ff4040" stroke-width="0.9"/><line x1="395.0" y1="435.3" x2="395.0" y2="437.4" stroke="#ff4040" stroke-width="0.9"/><line x1="406.5" y1="435.3" x2="406.5" y2="433.3" stroke="#2e8b2e" stroke-width="0.9"/><line x1="412.2" y1="435.3" x2="412.2" y2="432.4" stroke="#2e8b2e" stroke-width="0.9"/><line x1="417.9" y1="435.3" x2="417.9" y2="431.5" stroke="#2e8b2e" stroke-width="0.9"/><line x1="423.6" y1="435.3" x2="423.6" y2="430.9" stroke="#2e8b2e" stroke-width="0.9"/><line x1="429.3" y1="435.3" x2="429.3" y2="433.5" stroke="#2e8b2e" stroke-width="0.9"/><line x1="435.0" y1="435.3" x2="435.0" y2="438.6" stroke="#ff4040" stroke-width="0.9"/><line x1="440.7" y1="435.3" x2="440.7" y2="440.0" stroke="#ff4040" stroke-width="0.9"/><line x1="446.4" y1="435.3" x2="446.4" y2="441.8" stroke="#ff4040" stroke-width="0.9"/><line x1="452.1" y1="435.3" x2="452.1" y2="443.6" stroke="#ff4040" stroke-width="0.9"/><line x1="457.9" y1="435.3" x2="457.9" y2="442.6" stroke="#ff4040" stroke-width="0.9"/><line x1="463.6" y1="435.3" x2="463.6" y2="440.4" stroke="#ff4040" stroke-width="0.9"/><line x1="469.3" y1="435.3" x2="469.3" y2="440.7" stroke="#ff4040" stroke-width="0.9"/><line x1="475.0" y1="435.3" x2="475.0" y2="437.8" stroke="#ff4040" stroke-width="0.9"/><line x1="480.7" y1="435.3" x2="480.7" y2="431.5" stroke="#2e8b2e" stroke-width="0.9"/><line x1="486.4" y1="435.3" x2="486.4" y2="426.3" stroke="#2e8b2e" stroke-width="0.9"/><line x1="492.1" y1="435.3" x2="492.1" y2="422.9" stroke="#2e8b2e" stroke-width="0.9"/><line x1="497.8" y1="435.3" x2="497.8" y2="423.9" stroke="#2e8b2e" stroke-width="0.9"/><line x1="503.5" y1="435.3" x2="503.5" y2="426.9" stroke="#2e8b2e" stroke-width="0.9"/><line x1="509.2" y1="435.3" x2="509.2" y2="428.5" stroke="#2e8b2e" stroke-width="0.9"/><line x1="515.0" y1="435.3" x2="515.0" y2="429.6" stroke="#2e8b2e" stroke-width="0.9"/><line x1="520.7" y1="435.3" x2="520.7" y2="429.9" stroke="#2e8b2e" stroke-width="0.9"/><line x1="526.4" y1="435.3" x2="526.4" y2="430.5" stroke="#2e8b2e" stroke-width="0.9"/><line x1="532.1" y1="435.3" x2="532.1" y2="430.9" stroke="#2e8b2e" stroke-width="0.9"/><line x1="537.8" y1="435.3" x2="537.8" y2="432.2" stroke="#2e8b2e" stroke-width="0.9"/><line x1="543.5" y1="435.3" x2="543.5" y2="433.5" stroke="#2e8b2e" stroke-width="0.9"/><line x1="549.2" y1="435.3" x2="549.2" y2="436.3" stroke="#ff4040" stroke-width="0.9"/><line x1="554.9" y1="435.3" x2="554.9" y2="437.1" stroke="#ff4040" stroke-width="0.9"/><line x1="560.6" y1="435.3" x2="560.6" y2="437.3" stroke="#ff4040" stroke-width="0.9"/><line x1="566.3" y1="435.3" x2="566.3" y2="437.2" stroke="#ff4040" stroke-width="0.9"/><line x1="572.1" y1="435.3" x2="572.1" y2="436.9" stroke="#ff4040" stroke-width="0.9"/><line x1="577.8" y1="435.3" x2="577.8" y2="436.9" stroke="#ff4040" stroke-width="0.9"/><line x1="583.5" y1="435.3" x2="583.5" y2="438.7" stroke="#ff4040" stroke-width="0.9"/><line x1="589.2" y1="435.3" x2="589.2" y2="440.5" stroke="#ff4040" stroke-width="0.9"/><line x1="594.9" y1="435.3" x2="594.9" y2="440.3" stroke="#ff4040" stroke-width="0.9"/><line x1="600.6" y1="435.3" x2="600.6" y2="440.0" stroke="#ff4040" stroke-width="0.9"/><line x1="606.3" y1="435.3" x2="606.3" y2="438.3" stroke="#ff4040" stroke-width="0.9"/><line x1="612.0" y1="435.3" x2="612.0" y2="436.9" stroke="#ff4040" stroke-width="0.9"/><line x1="617.7" y1="435.3" x2="617.7" y2="436.5" stroke="#ff4040" stroke-width="0.9"/><line x1="634.9" y1="435.3" x2="634.9" y2="433.3" stroke="#2e8b2e" stroke-width="0.9"/><line x1="640.6" y1="435.3" x2="640.6" y2="432.3" stroke="#2e8b2e" stroke-width="0.9"/><line x1="646.3" y1="435.3" x2="646.3" y2="431.9" stroke="#2e8b2e" stroke-width="0.9"/><line x1="652.0" y1="435.3" x2="652.0" y2="431.7" stroke="#2e8b2e" stroke-width="0.9"/><line x1="657.7" y1="435.3" x2="657.7" y2="431.9" stroke="#2e8b2e" stroke-width="0.9"/><line x1="680.5" y1="435.3" x2="680.5" y2="433.9" stroke="#2e8b2e" stroke-width="0.9"/><line x1="686.2" y1="435.3" x2="686.2" y2="432.4" stroke="#2e8b2e" stroke-width="0.9"/><line x1="692.0" y1="435.3" x2="692.0" y2="431.5" stroke="#2e8b2e" stroke-width="0.9"/><line x1="697.7" y1="435.3" x2="697.7" y2="432.5" stroke="#2e8b2e" stroke-width="0.9"/><line x1="703.4" y1="435.3" x2="703.4" y2="434.2" stroke="#2e8b2e" stroke-width="0.9"/><line x1="709.1" y1="435.3" x2="709.1" y2="436.5" stroke="#ff4040" stroke-width="0.9"/><line x1="714.8" y1="435.3" x2="714.8" y2="440.4" stroke="#ff4040" stroke-width="0.9"/><line x1="720.5" y1="435.3" x2="720.5" y2="444.1" stroke="#ff4040" stroke-width="0.9"/><line x1="726.2" y1="435.3" x2="726.2" y2="445.2" stroke="#ff4040" stroke-width="0.9"/><line x1="731.9" y1="435.3" x2="731.9" y2="445.9" stroke="#ff4040" stroke-width="0.9"/><line x1="737.6" y1="435.3" x2="737.6" y2="445.6" stroke="#ff4040" stroke-width="0.9"/><line x1="743.4" y1="435.3" x2="743.4" y2="444.8" stroke="#ff4040" stroke-width="0.9"/><line x1="749.1" y1="435.3" x2="749.1" y2="443.0" stroke="#ff4040" stroke-width="0.9"/><line x1="754.8" y1="435.3" x2="754.8" y2="443.2" stroke="#ff4040" stroke-width="0.9"/><line x1="760.5" y1="435.3" x2="760.5" y2="444.0" stroke="#ff4040" stroke-width="0.9"/><line x1="766.2" y1="435.3" x2="766.2" y2="442.7" stroke="#ff4040" stroke-width="0.9"/><line x1="771.9" y1="435.3" x2="771.9" y2="440.5" stroke="#ff4040" stroke-width="0.9"/><line x1="783.3" y1="435.3" x2="783.3" y2="434.0" stroke="#2e8b2e" stroke-width="0.9"/><line x1="789.0" y1="435.3" x2="789.0" y2="431.6" stroke="#2e8b2e" stroke-width="0.9"/><line x1="794.7" y1="435.3" x2="794.7" y2="429.6" stroke="#2e8b2e" stroke-width="0.9"/><line x1="800.5" y1="435.3" x2="800.5" y2="427.8" stroke="#2e8b2e" stroke-width="0.9"/><line x1="806.2" y1="435.3" x2="806.2" y2="427.4" stroke="#2e8b2e" stroke-width="0.9"/><line x1="811.9" y1="435.3" x2="811.9" y2="427.3" stroke="#2e8b2e" stroke-width="0.9"/><line x1="817.6" y1="435.3" x2="817.6" y2="428.3" stroke="#2e8b2e" stroke-width="0.9"/><line x1="823.3" y1="435.3" x2="823.3" y2="429.3" stroke="#2e8b2e" stroke-width="0.9"/><line x1="829.0" y1="435.3" x2="829.0" y2="430.2" stroke="#2e8b2e" stroke-width="0.9"/><line x1="834.7" y1="435.3" x2="834.7" y2="430.3" stroke="#2e8b2e" stroke-width="0.9"/><line x1="840.4" y1="435.3" x2="840.4" y2="430.1" stroke="#2e8b2e" stroke-width="0.9"/><line x1="846.1" y1="435.3" x2="846.1" y2="427.9" stroke="#2e8b2e" stroke-width="0.9"/><line x1="851.8" y1="435.3" x2="851.8" y2="425.6" stroke="#2e8b2e" stroke-width="0.9"/><line x1="857.6" y1="435.3" x2="857.6" y2="426.0" stroke="#2e8b2e" stroke-width="0.9"/><line x1="863.3" y1="435.3" x2="863.3" y2="426.6" stroke="#2e8b2e" stroke-width="0.9"/><line x1="869.0" y1="435.3" x2="869.0" y2="427.3" stroke="#2e8b2e" stroke-width="0.9"/><line x1="874.7" y1="435.3" x2="874.7" y2="428.8" stroke="#2e8b2e" stroke-width="0.9"/><line x1="880.4" y1="435.3" x2="880.4" y2="430.4" stroke="#2e8b2e" stroke-width="0.9"/><line x1="886.1" y1="435.3" x2="886.1" y2="432.1" stroke="#2e8b2e" stroke-width="0.9"/><line x1="891.8" y1="435.3" x2="891.8" y2="433.8" stroke="#2e8b2e" stroke-width="0.9"/><line x1="897.5" y1="435.3" x2="897.5" y2="443.6" stroke="#ff4040" stroke-width="0.9"/><line x1="903.2" y1="435.3" x2="903.2" y2="448.8" stroke="#ff4040" stroke-width="0.9"/><line x1="908.9" y1="435.3" x2="908.9" y2="451.3" stroke="#ff4040" stroke-width="0.9"/><line x1="914.6" y1="435.3" x2="914.6" y2="452.3" stroke="#ff4040" stroke-width="0.9"/><line x1="920.4" y1="435.3" x2="920.4" y2="452.1" stroke="#ff4040" stroke-width="0.9"/><line x1="926.1" y1="435.3" x2="926.1" y2="451.4" stroke="#ff4040" stroke-width="0.9"/><line x1="931.8" y1="435.3" x2="931.8" y2="450.0" stroke="#ff4040" stroke-width="0.9"/><line x1="937.5" y1="435.3" x2="937.5" y2="448.2" stroke="#ff4040" stroke-width="0.9"/><line x1="943.2" y1="435.3" x2="943.2" y2="445.7" stroke="#ff4040" stroke-width="0.9"/><line x1="948.9" y1="435.3" x2="948.9" y2="443.8" stroke="#ff4040" stroke-width="0.9"/><line x1="954.6" y1="435.3" x2="954.6" y2="441.5" stroke="#ff4040" stroke-width="0.9"/><line x1="960.3" y1="435.3" x2="960.3" y2="438.7" stroke="#ff4040" stroke-width="0.9"/><polyline points="29.1,437.8 38.0,438.4 46.3,439.6 58.2,440.4 68.4,440.6 75.9,440.6 83.5,438.9 92.4,437.3 103.3,436.1 108.9,437.3 115.2,440.4 124.1,442.4 131.6,443.9 139.2,443.9 146.8,442.9 159.5,440.4 167.1,439.9 174.7,440.4 184.8,439.6 194.9,437.8 205.1,436.6 215.2,435.3 225.3,435.1 229.1,435.6 235.4,434.6 243.0,433.5 253.2,432.3 262.7,430.3 274.1,429.0 285.4,426.5 295.6,425.2 304.4,424.7 310.8,425.7 320.9,427.7 328.5,428.2 336.1,429.5 343.7,431.5 351.3,434.1 361.4,437.8 371.5,441.6 381.6,445.4 391.8,446.7 401.9,446.2 412.0,444.2 422.2,442.9 427.2,442.4 434.8,443.4 442.4,445.4 452.5,449.2 462.7,450.5 472.8,452.0 477.8,451.3 488.0,446.7 498.1,442.2 512.7,437.8 525.3,435.3 538.0,434.1 550.6,434.3 563.3,436.1 575.9,439.1 588.6,440.9 601.3,442.9 613.9,443.7 624.1,444.2 636.7,442.2 651.9,439.9 664.6,437.8 674.7,438.4 684.8,436.6 694.9,434.8 705.1,434.1 710.1,434.8 720.3,439.1 732.9,444.2 745.6,448.5 750.1,450.5 760.3,454.3 770.4,456.3 778.0,457.6 790.6,454.3 803.3,449.2 815.9,444.2 828.6,439.1 841.3,434.8 853.9,430.3 866.6,426.5 879.2,423.9 891.9,422.2 897.0,423.9 907.1,429.0 917.2,435.3 924.8,441.6 934.9,448.0 945.1,451.8 955.2,453.8 965.3,455.1 976.7,455.1" fill="none" stroke="#2e9a2e" stroke-width="0.9"/><polyline points="29.1,437.8 38.0,438.6 46.3,440.9 58.2,441.9 68.4,441.4 75.9,440.4 81.0,437.8 87.3,437.3 96.2,435.3 103.3,433.3 108.9,437.8 115.2,445.4 121.5,447.2 129.1,446.7 136.7,444.9 144.3,441.9 151.9,438.9 160.8,436.3 167.1,439.9 174.7,440.9 182.3,440.6 188.6,437.8 196.2,435.8 205.1,434.6 211.4,433.5 217.7,434.1 224.1,434.1 229.1,435.6 234.9,431.3 240.5,429.2 249.4,428.0 262.7,427.7 274.1,428.5 285.4,422.7 295.6,422.4 303.2,421.9 309.5,426.5 315.8,430.3 325.9,432.3 332.3,430.3 337.3,431.0 343.7,434.8 351.3,437.8 358.9,442.4 366.5,445.4 376.6,453.0 384.2,451.8 393.0,449.2 404.4,444.2 414.6,440.9 423.4,438.9 428.5,440.4 434.8,446.2 443.7,450.5 451.3,456.3 457.6,456.3 462.7,454.8 468.2,456.6 474.8,454.1 481.6,445.4 490.5,434.6 498.1,432.3 503.2,433.3 512.7,432.8 522.8,431.3 531.6,430.8 541.8,431.8 550.6,435.8 563.3,437.8 578.5,440.9 588.6,445.4 600.0,447.0 611.4,444.9 624.1,444.9 631.6,441.6 641.8,438.6 657.0,435.8 667.1,438.4 674.7,438.9 682.3,435.3 691.1,432.0 700.0,432.3 707.6,434.3 713.9,440.4 720.3,446.7 730.4,452.5 740.5,455.6 750.1,456.8 760.3,461.9 770.4,461.9 780.5,456.8 790.6,450.5 800.8,443.7 810.9,439.1 821.0,436.6 831.1,434.1 841.3,430.3 851.4,422.7 861.5,420.1 870.4,418.9 881.8,419.6 891.9,420.9 898.2,432.8 904.6,440.4 912.2,446.7 921.0,453.0 928.6,458.1 937.5,460.1 947.6,460.1 957.7,458.6 964.1,455.6 976.7,455.6" fill="none" stroke="#ff1a1a" stroke-width="2.1" stroke-linejoin="round"/><g filter="url(#sh)" opacity="0.55" transform="translate(1,3)"><line x1="762.8" y1="465.2" x2="954.3" y2="459.6" stroke="#777" stroke-width="3.2"/><polygon points="962.3,459.4 954.4,462.8 954.2,456.4" fill="#777"/></g><line x1="762.8" y1="465.2" x2="954.3" y2="459.6" stroke="#4f9a1c" stroke-width="2.2"/><polygon points="962.3,459.4 954.4,462.8 954.2,456.4" fill="#4f9a1c"/><rect x="2" y="465" width="1011" height="11" fill="#dfe3e9"/><rect x="2" y="465" width="1011" height="0.8" fill="#d3d7dd"/><text x="69.7" y="474" font-size="6.9" fill="#5a6170" text-anchor="middle">אוג</text><text x="200.6" y="474" font-size="6.9" fill="#5a6170" text-anchor="middle">ספט</text><text x="321" y="474" font-size="6.9" fill="#5a6170" text-anchor="middle">אוק</text><text x="440.5" y="474" font-size="6.9" fill="#5a6170" text-anchor="middle">נוב</text><text x="560" y="474" font-size="6.9" fill="#5a6170" text-anchor="middle">דצמ</text><text x="679.8" y="474" font-size="8.5" fill="#5a6170" text-anchor="middle">2017</text><text x="795" y="474" font-size="6.9" fill="#5a6170" text-anchor="middle">פבר</text><text x="903" y="474" font-size="6.9" fill="#5a6170" text-anchor="middle">מרץ</text><line x1="29" y1="499.4" x2="986" y2="499.4" stroke="#c8ccd2" stroke-width="0.7" stroke-dasharray="1.5,1"/><text x="2.9" y="502.2" font-size="7.8" font-weight="bold" fill="#4f5a6b" textLength="21.4" lengthAdjust="spacingAndGlyphs">10,156</text><line x1="29" y1="522.3" x2="986" y2="522.3" stroke="#c8ccd2" stroke-width="0.7" stroke-dasharray="1.5,1"/><text x="2.9" y="525.0999999999999" font-size="7.8" font-weight="bold" fill="#4f5a6b" textLength="17.5" lengthAdjust="spacingAndGlyphs">4,546</text><line x1="2" y1="546.3" x2="1012" y2="546.3" stroke="#d5d8dd" stroke-width="0.8"/><rect x="27.25" y="535.4" width="2.9" height="10.7" fill="#ff0000"/><rect x="32.96" y="532.5" width="2.9" height="13.6" fill="#0a7d0a"/><rect x="38.67" y="533.8" width="2.9" height="12.3" fill="#0a7d0a"/><rect x="44.38" y="533.1" width="2.9" height="13.0" fill="#ff0000"/><rect x="50.09" y="535.0" width="2.9" height="11.1" fill="#0a7d0a"/><rect x="55.80" y="534.4" width="2.9" height="11.7" fill="#ff0000"/><rect x="61.51" y="536.4" width="2.9" height="9.7" fill="#0a7d0a"/><rect x="67.22" y="534.4" width="2.9" height="11.7" fill="#ff0000"/><rect x="72.93" y="535.8" width="2.9" height="10.3" fill="#0a7d0a"/><rect x="78.64" y="536.4" width="2.9" height="9.7" fill="#0a7d0a"/><rect x="84.35" y="537.3" width="2.9" height="8.8" fill="#ff0000"/><rect x="90.06" y="538.3" width="2.9" height="7.8" fill="#0a7d0a"/><rect x="95.77" y="536.8" width="2.9" height="9.3" fill="#0a7d0a"/><rect x="101.48" y="533.8" width="2.9" height="12.3" fill="#0a7d0a"/><rect x="107.19" y="484.8" width="2.9" height="61.3" fill="#ff0000"/><rect x="112.90" y="516.3" width="2.9" height="29.8" fill="#ff0000"/><rect x="118.61" y="526.6" width="2.9" height="19.5" fill="#0a7d0a"/><rect x="124.32" y="533.8" width="2.9" height="12.3" fill="#0a7d0a"/><rect x="130.03" y="535.0" width="2.9" height="11.1" fill="#0a7d0a"/><rect x="135.74" y="535.8" width="2.9" height="10.3" fill="#0a7d0a"/><rect x="141.45" y="535.0" width="2.9" height="11.1" fill="#0a7d0a"/><rect x="147.16" y="534.4" width="2.9" height="11.7" fill="#0a7d0a"/><rect x="152.87" y="536.4" width="2.9" height="9.7" fill="#ff0000"/><rect x="158.58" y="528.2" width="2.9" height="17.9" fill="#0a7d0a"/><rect x="164.29" y="529.0" width="2.9" height="17.1" fill="#ff0000"/><rect x="170.00" y="528.2" width="2.9" height="17.9" fill="#0a7d0a"/><rect x="175.71" y="528.2" width="2.9" height="17.9" fill="#0a7d0a"/><rect x="181.42" y="535.8" width="2.9" height="10.3" fill="#0a7d0a"/><rect x="187.13" y="535.0" width="2.9" height="11.1" fill="#0a7d0a"/><rect x="192.84" y="536.4" width="2.9" height="9.7" fill="#ff0000"/><rect x="198.55" y="534.4" width="2.9" height="11.7" fill="#0a7d0a"/><rect x="204.26" y="534.0" width="2.9" height="12.1" fill="#ff0000"/><rect x="209.97" y="529.0" width="2.9" height="17.1" fill="#0a7d0a"/><rect x="215.68" y="533.8" width="2.9" height="12.3" fill="#ff0000"/><rect x="221.39" y="536.4" width="2.9" height="9.7" fill="#0a7d0a"/><rect x="227.10" y="536.4" width="2.9" height="9.7" fill="#ff0000"/><rect x="232.81" y="519.8" width="2.9" height="26.3" fill="#0a7d0a"/><rect x="238.52" y="532.9" width="2.9" height="13.2" fill="#ff0000"/><rect x="244.23" y="534.8" width="2.9" height="11.3" fill="#ff0000"/><rect x="249.94" y="535.0" width="2.9" height="11.1" fill="#0a7d0a"/><rect x="255.65" y="523.7" width="2.9" height="22.4" fill="#ff0000"/><rect x="261.36" y="536.4" width="2.9" height="9.7" fill="#ff0000"/><rect x="267.07" y="537.9" width="2.9" height="8.2" fill="#0a7d0a"/><rect x="272.78" y="535.0" width="2.9" height="11.1" fill="#0a7d0a"/><rect x="278.49" y="535.0" width="2.9" height="11.1" fill="#0a7d0a"/><rect x="284.20" y="534.4" width="2.9" height="11.7" fill="#0a7d0a"/><rect x="289.91" y="537.0" width="2.9" height="9.1" fill="#ff0000"/><rect x="295.62" y="533.1" width="2.9" height="13.0" fill="#0a7d0a"/><rect x="301.33" y="534.4" width="2.9" height="11.7" fill="#0a7d0a"/><rect x="307.04" y="534.0" width="2.9" height="12.1" fill="#ff0000"/><rect x="312.75" y="532.5" width="2.9" height="13.6" fill="#ff0000"/><rect x="318.46" y="533.1" width="2.9" height="13.0" fill="#0a7d0a"/><rect x="324.17" y="533.1" width="2.9" height="13.0" fill="#0a7d0a"/><rect x="329.88" y="535.8" width="2.9" height="10.3" fill="#0a7d0a"/><rect x="335.59" y="535.8" width="2.9" height="10.3" fill="#ff0000"/><rect x="341.30" y="530.0" width="2.9" height="16.1" fill="#ff0000"/><rect x="347.01" y="535.8" width="2.9" height="10.3" fill="#0a7d0a"/><rect x="352.72" y="532.5" width="2.9" height="13.6" fill="#ff0000"/><rect x="358.43" y="532.1" width="2.9" height="14.0" fill="#ff0000"/><rect x="364.14" y="536.4" width="2.9" height="9.7" fill="#ff0000"/><rect x="369.85" y="535.0" width="2.9" height="11.1" fill="#ff0000"/><rect x="375.56" y="538.3" width="2.9" height="7.8" fill="#0a7d0a"/><rect x="381.27" y="538.3" width="2.9" height="7.8" fill="#0a7d0a"/><rect x="386.98" y="538.7" width="2.9" height="7.4" fill="#ff0000"/><rect x="392.69" y="537.9" width="2.9" height="8.2" fill="#0a7d0a"/><rect x="398.40" y="532.1" width="2.9" height="14.0" fill="#0a7d0a"/><rect x="404.11" y="536.4" width="2.9" height="9.7" fill="#0a7d0a"/><rect x="409.82" y="536.0" width="2.9" height="10.1" fill="#ff0000"/><rect x="415.53" y="537.3" width="2.9" height="8.8" fill="#0a7d0a"/><rect x="421.24" y="537.3" width="2.9" height="8.8" fill="#0a7d0a"/><rect x="426.95" y="530.5" width="2.9" height="15.6" fill="#ff0000"/><rect x="432.66" y="526.0" width="2.9" height="20.1" fill="#ff0000"/><rect x="438.37" y="535.0" width="2.9" height="11.1" fill="#0a7d0a"/><rect x="444.08" y="535.0" width="2.9" height="11.1" fill="#ff0000"/><rect x="449.79" y="520.4" width="2.9" height="25.7" fill="#ff0000"/><rect x="455.50" y="534.0" width="2.9" height="12.1" fill="#0a7d0a"/><rect x="461.21" y="536.4" width="2.9" height="9.7" fill="#0a7d0a"/><rect x="466.92" y="529.2" width="2.9" height="16.9" fill="#ff0000"/><rect x="472.63" y="523.7" width="2.9" height="22.4" fill="#0a7d0a"/><rect x="478.34" y="522.3" width="2.9" height="23.8" fill="#0a7d0a"/><rect x="484.05" y="534.4" width="2.9" height="11.7" fill="#0a7d0a"/><rect x="489.76" y="533.8" width="2.9" height="12.3" fill="#0a7d0a"/><rect x="495.47" y="530.5" width="2.9" height="15.6" fill="#ff0000"/><rect x="501.18" y="536.0" width="2.9" height="10.1" fill="#ff0000"/><rect x="506.89" y="536.4" width="2.9" height="9.7" fill="#0a7d0a"/><rect x="512.60" y="537.9" width="2.9" height="8.2" fill="#ff0000"/><rect x="518.31" y="537.9" width="2.9" height="8.2" fill="#0a7d0a"/><rect x="524.02" y="536.4" width="2.9" height="9.7" fill="#ff0000"/><rect x="529.73" y="538.3" width="2.9" height="7.8" fill="#0a7d0a"/><rect x="535.44" y="539.9" width="2.9" height="6.2" fill="#ff0000"/><rect x="541.15" y="534.0" width="2.9" height="12.1" fill="#0a7d0a"/><rect x="546.86" y="536.4" width="2.9" height="9.7" fill="#ff0000"/><rect x="552.57" y="537.9" width="2.9" height="8.2" fill="#0a7d0a"/><rect x="558.28" y="536.0" width="2.9" height="10.1" fill="#ff0000"/><rect x="563.99" y="536.0" width="2.9" height="10.1" fill="#0a7d0a"/><rect x="569.70" y="536.0" width="2.9" height="10.1" fill="#ff0000"/><rect x="575.41" y="535.6" width="2.9" height="10.5" fill="#ff0000"/><rect x="581.12" y="533.1" width="2.9" height="13.0" fill="#1d4f7e"/><rect x="586.83" y="534.1" width="2.9" height="12.0" fill="#ff0000"/><rect x="592.54" y="535.1" width="2.9" height="11.0" fill="#0a7d0a"/><rect x="598.25" y="534.1" width="2.9" height="12.0" fill="#ff0000"/><rect x="603.96" y="534.1" width="2.9" height="12.0" fill="#0a7d0a"/><rect x="609.67" y="536.1" width="2.9" height="10.0" fill="#ff0000"/><rect x="615.38" y="536.1" width="2.9" height="10.0" fill="#ff0000"/><rect x="621.09" y="522.0" width="2.9" height="24.1" fill="#0a7d0a"/><rect x="626.80" y="536.1" width="2.9" height="10.0" fill="#0a7d0a"/><rect x="632.51" y="537.0" width="2.9" height="9.1" fill="#0a7d0a"/><rect x="638.22" y="536.0" width="2.9" height="10.1" fill="#0a7d0a"/><rect x="643.93" y="537.9" width="2.9" height="8.2" fill="#ff0000"/><rect x="649.64" y="535.0" width="2.9" height="11.1" fill="#0a7d0a"/><rect x="655.35" y="537.3" width="2.9" height="8.8" fill="#0a7d0a"/><rect x="661.06" y="535.0" width="2.9" height="11.1" fill="#ff0000"/><rect x="666.77" y="537.3" width="2.9" height="8.8" fill="#ff0000"/><rect x="672.48" y="537.9" width="2.9" height="8.2" fill="#0a7d0a"/><rect x="678.19" y="535.0" width="2.9" height="11.1" fill="#0a7d0a"/><rect x="683.90" y="535.0" width="2.9" height="11.1" fill="#0a7d0a"/><rect x="689.61" y="537.3" width="2.9" height="8.8" fill="#ff0000"/><rect x="695.32" y="537.3" width="2.9" height="8.8" fill="#ff0000"/><rect x="701.03" y="537.9" width="2.9" height="8.2" fill="#0a7d0a"/><rect x="706.74" y="536.4" width="2.9" height="9.7" fill="#ff0000"/><rect x="712.45" y="515.9" width="2.9" height="30.2" fill="#ff0000"/><rect x="718.16" y="532.5" width="2.9" height="13.6" fill="#0a7d0a"/><rect x="723.87" y="535.0" width="2.9" height="11.1" fill="#ff0000"/><rect x="729.58" y="535.0" width="2.9" height="11.1" fill="#ff0000"/><rect x="735.29" y="536.0" width="2.9" height="10.1" fill="#ff0000"/><rect x="741.00" y="530.0" width="2.9" height="16.1" fill="#0a7d0a"/><rect x="746.71" y="532.5" width="2.9" height="13.6" fill="#ff0000"/><rect x="752.42" y="528.0" width="2.9" height="18.1" fill="#ff0000"/><rect x="758.13" y="534.4" width="2.9" height="11.7" fill="#ff0000"/><rect x="763.84" y="536.0" width="2.9" height="10.1" fill="#0a7d0a"/><rect x="769.55" y="537.3" width="2.9" height="8.8" fill="#ff0000"/><rect x="775.26" y="536.0" width="2.9" height="10.1" fill="#0a7d0a"/><rect x="780.97" y="534.0" width="2.9" height="12.1" fill="#0a7d0a"/><rect x="786.68" y="534.0" width="2.9" height="12.1" fill="#0a7d0a"/><rect x="792.39" y="537.3" width="2.9" height="8.8" fill="#0a7d0a"/><rect x="798.10" y="532.1" width="2.9" height="14.0" fill="#0a7d0a"/><rect x="803.81" y="533.1" width="2.9" height="13.0" fill="#ff0000"/><rect x="809.52" y="536.0" width="2.9" height="10.1" fill="#0a7d0a"/><rect x="815.23" y="532.1" width="2.9" height="14.0" fill="#ff0000"/><rect x="820.94" y="533.1" width="2.9" height="13.0" fill="#0a7d0a"/><rect x="826.65" y="534.4" width="2.9" height="11.7" fill="#0a7d0a"/><rect x="832.36" y="537.3" width="2.9" height="8.8" fill="#ff0000"/><rect x="838.07" y="537.9" width="2.9" height="8.2" fill="#0a7d0a"/><rect x="843.78" y="535.0" width="2.9" height="11.1" fill="#0a7d0a"/><rect x="849.49" y="534.0" width="2.9" height="12.1" fill="#0a7d0a"/><rect x="855.20" y="536.0" width="2.9" height="10.1" fill="#ff0000"/><rect x="860.91" y="536.4" width="2.9" height="9.7" fill="#0a7d0a"/><rect x="866.62" y="534.0" width="2.9" height="12.1" fill="#0a7d0a"/><rect x="872.33" y="536.0" width="2.9" height="10.1" fill="#ff0000"/><rect x="878.04" y="536.0" width="2.9" height="10.1" fill="#ff0000"/><rect x="883.75" y="536.4" width="2.9" height="9.7" fill="#0a7d0a"/><rect x="889.46" y="533.1" width="2.9" height="13.0" fill="#0a7d0a"/><rect x="895.17" y="481.8" width="2.9" height="64.3" fill="#ff0000"/><rect x="900.88" y="523.7" width="2.9" height="22.4" fill="#0a7d0a"/><rect x="906.59" y="528.2" width="2.9" height="17.9" fill="#0a7d0a"/><rect x="912.30" y="526.2" width="2.9" height="19.9" fill="#ff0000"/><rect x="918.01" y="531.9" width="2.9" height="14.2" fill="#ff0000"/><rect x="923.72" y="529.0" width="2.9" height="17.1" fill="#ff0000"/><rect x="929.43" y="534.0" width="2.9" height="12.1" fill="#0a7d0a"/><rect x="935.14" y="535.0" width="2.9" height="11.1" fill="#0a7d0a"/><rect x="940.85" y="536.4" width="2.9" height="9.7" fill="#0a7d0a"/><rect x="946.56" y="536.0" width="2.9" height="10.1" fill="#ff0000"/><rect x="952.27" y="536.0" width="2.9" height="10.1" fill="#ff0000"/><rect x="957.98" y="535.0" width="2.9" height="11.1" fill="#0a7d0a"/><rect x="963.69" y="536.4" width="2.9" height="9.7" fill="#0a7d0a"/><rect x="969.40" y="529.0" width="2.9" height="17.1" fill="#ff0000"/><rect x="975.11" y="532.5" width="2.9" height="13.6" fill="#ff0000"/><rect x="555.1" y="537" width="52.9" height="9.8" fill="#000"/><text x="581.5" y="544.8" font-size="7.5" font-weight="bold" fill="#fff" text-anchor="middle">07/12/2016</text><rect x="1" y="20" width="1" height="536" fill="#333"/><rect x="1026" y="20" width="1" height="536" fill="#333"/><rect x="1" y="555" width="1026" height="1" fill="#333"/><rect x="981.1" y="4.1" width="13.1" height="13.6" rx="2.5" fill="#ececec"/><rect x="995.8" y="4.1" width="13.1" height="13.6" rx="2.5" fill="#ececec"/><rect x="1010.7" y="4.1" width="12.1" height="13.6" rx="2.5" fill="#ececec"/><rect x="984.3" y="11" width="5.6" height="1.3" fill="#8a8a8a"/><path d="M1000.2 9.5 v4 h4" fill="none" stroke="#8a8a8a" stroke-width="1.1"/><path d="M1001.2 12.5 l3.8 -3.8 M1003 8.5 h2.2 v2.2" fill="none" stroke="#8a8a8a" stroke-width="1"/><path d="M1014.2 8.4 l5 5 M1019.2 8.4 l-5 5" stroke="#8a8a8a" stroke-width="1.8"/><polygon points="9.90,22.80 11.90,27.05 16.56,27.64 13.13,30.85 14.01,35.46 9.90,33.20 5.79,35.46 6.67,30.85 3.24,27.64 7.90,27.05" fill="#4a4a4c"/><g fill="#4a4a4c" stroke="#4a4a4c"><circle cx="20.8" cy="29.6" r="2.5" stroke="none"/><circle cx="28.3" cy="25.6" r="2.5" stroke="none"/><circle cx="28.3" cy="33.6" r="2.5" stroke="none"/><line x1="20.8" y1="29.6" x2="28.3" y2="25.6" stroke-width="2"/><line x1="20.8" y1="29.6" x2="28.3" y2="33.6" stroke-width="2"/></g><circle cx="38.1" cy="29.4" r="5.3" fill="none" stroke="#f28a1a" stroke-width="1.6"/><circle cx="38.1" cy="29.4" r="1.9" fill="#f28a1a"/><ellipse cx="53.6" cy="29.3" rx="7.4" ry="4.9" fill="#4a4a4c"/><path d="M47.5 36.8 L49.8 31.5 L53 33 Z" fill="#4a4a4c"/></svg><div class="t" style="left:11px;top:7px;font-size:9px;font-weight:bold;color:#fff;word-spacing:0.9px">PRGO | 11111460 | <span dir="rtl">יומי</span></div><div class="t" style="right:3.6px;top:21.8px;font-size:13.4px;color:#000">PRGO</div><div class="t" style="left:927px;top:24px;font-size:9px;font-weight:bold;color:#111">20/03/2017</div><div class="t" style="left:977.6px;top:23.5px;font-size:9px;color:#e8c89a">|</div><div class="t" style="left:921.2px;top:23px;font-size:9px;color:#e8c89a">|</div><div class="t" dir="rtl" style="left:893.3px;top:24px;font-size:9px;color:#8090a4">אחרון:</div><div class="t" style="left:866.2px;top:24px;font-size:9px;font-weight:bold;color:#111">68.42</div><div class="t" style="left:857.5px;top:23px;font-size:9px;color:#e8c89a">|</div><div class="t" dir="rtl" style="left:839.6px;top:24px;font-size:9px;color:#8090a4">יומי:</div><div class="t" style="left:806.1px;top:24px;font-size:9px;font-weight:bold;color:#f0141e">-1.55%</div><div class="t" style="left:797.6px;top:23px;font-size:9px;color:#e8c89a">|</div><div class="t" dir="rtl" style="left:766.4px;top:24px;font-size:9px;color:#8090a4">תשואה:</div><div class="t" style="left:727px;top:24px;font-size:9px;font-weight:bold;color:#f0141e">-24.84%</div><div class="sel" style="left:898.3px;top:39.6px;width:124px">--פעולות--<svg width="4" height="3" viewBox="0 0 4 3"><polygon points="0,0 4,0 2,3" fill="#111"/></svg></div><div class="sel" style="left:793.2px;top:39.6px;width:98px">יומי<svg width="4" height="3" viewBox="0 0 4 3"><polygon points="0,0 4,0 2,3" fill="#111"/></svg></div><div class="sel" style="left:692.1px;top:39.6px;width:93.3px">תבניות מובנות<svg width="4" height="3" viewBox="0 0 4 3"><polygon points="0,0 4,0 2,3" fill="#111"/></svg></div><div class="t" style="left:684.8px;top:40.5px;font-size:9px;color:#e8c89a">|</div><div class="dt" style="left:627.1px;top:39.6px;width:51.2px">20/03/2017</div><div class="t" style="left:617.5px;top:40px;font-size:9px;font-weight:bold;color:#f0a050">-</div><div class="dt" style="left:560.2px;top:39.6px;width:51.1px">21/07/2016</div></div></body></html>
